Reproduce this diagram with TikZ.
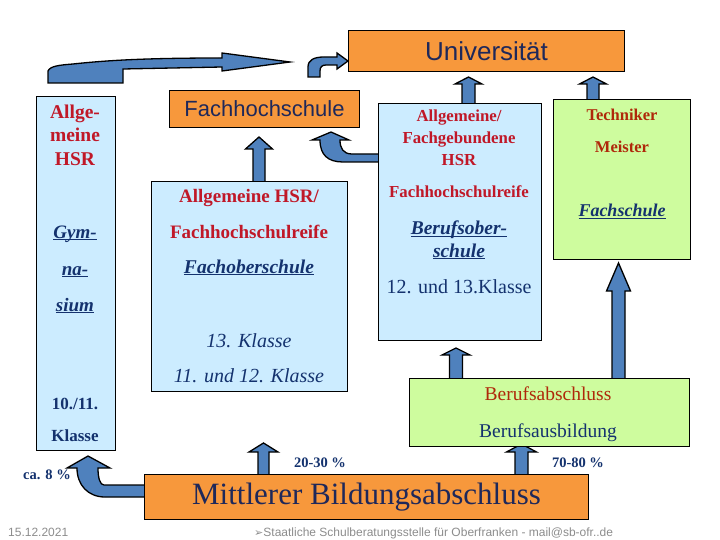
\documentclass[tikz,border=0pt]{standalone}
\usepackage{fontspec}
\setmainfont{Liberation Serif}
\newfontfamily\arialf{Liberation Sans}
\newfontfamily\dejavu{DejaVu Sans}
\definecolor{orangebox}{RGB}{247,152,60}
\definecolor{lblue}{RGB}{204,236,255}
\definecolor{lgreen}{RGB}{206,252,158}
\definecolor{arrblue}{RGB}{79,129,189}
\definecolor{txtred}{RGB}{192,24,40}
\definecolor{txtbrown}{RGB}{175,40,10}
\definecolor{navy}{RGB}{20,50,110}
\definecolor{navyo}{RGB}{30,40,90}
\definecolor{footgray}{RGB}{140,140,140}
\newcommand\fsz[1]{\fontsize{#1}{#1}\selectfont}
\newcommand\ulx[1]{\setbox0\hbox{#1}\rlap{\rule[-2.4pt]{\wd0}{1.3pt}}\box0}
\newcommand\blockup[6]{%
  \filldraw[arr] (#1-#4,#2) -- (#1-#4,#3+#6) -- (#1-#5,#3+#6) -- (#1,#3) -- (#1+#5,#3+#6) -- (#1+#4,#3+#6) -- (#1+#4,#2) -- cycle;}
\tikzset{
  box/.style={draw=black,line width=1pt,anchor=north west,inner sep=0pt},
  arr/.style={fill=arrblue,draw=black,line width=1.3pt,line join=miter},
  lbl/.style={anchor=base,inner sep=0pt},
  redt/.style={lbl,text=txtred,font=\fsz{#1}\bfseries},
  navt/.style={lbl,text=navy,font=\fsz{#1}},
  bit/.style={lbl,text=navy,font=\fsz{#1}\bfseries\itshape},
  brt/.style={lbl,text=txtbrown,font=\fsz{#1}\bfseries},
  pct/.style={lbl,text=navy,font=\fsz{14.5}\bfseries},
}
\begin{document}
\begin{tikzpicture}[x=1pt,y=-1pt]
\useasboundingbox (0,0) rectangle (720,540);
% ---- arrows
% big top-left arrow
\filldraw[arr] (48,83) -- (48,71) .. controls (50,66) and (60,65) .. (73,64)
  .. controls (110,60) and (150,58) .. (222,58) -- (222,53) -- (290,62) -- (222,71)
  -- (222,67) -- (123,69) -- (123,83) -- cycle;
% small curved arrow to Universitaet
\filldraw[arr] (308,77) -- (308,67) .. controls (308,60) and (314,57) .. (324,57) -- (337,57)
  -- (337,53) -- (348,61) -- (337,69) -- (337,65) -- (326,65)
  .. controls (322,65) and (320,67) .. (320,71) -- (320,77) -- cycle;
% BOS -> Fachhochschule curved
\filldraw[arr] (380,154) -- (352,154) .. controls (343,154) and (340,148) .. (340,140)
  -- (349,140) -- (331,132) -- (312,140) -- (320,140)
  .. controls (320,155) and (328,162) .. (343,162) -- (380,162) -- cycle;
% Mittlerer -> Gymnasium curved
\filldraw[arr] (146,485) -- (104,485) .. controls (100,485) and (98,478) .. (98,468)
  -- (110,468) -- (88,456) -- (67,468) -- (77,468)
  .. controls (77,485) and (88,497) .. (105,497) -- (146,497) -- cycle;
% straight block arrows
\blockup{259}{183}{137}{6}{13.5}{12}
\blockup{468.5}{105}{77}{6.5}{13.5}{7}
\blockup{593}{101}{77}{6}{13.5}{7}
\blockup{456}{380}{348}{6.5}{14}{7}
\blockup{618.5}{380}{263}{6.5}{12}{28}
\blockup{263.5}{476}{443}{5.5}{14.5}{9}
\blockup{521.5}{476}{444}{6.5}{15}{8}
% ---- boxes
\node[box,fill=orangebox,minimum width=276pt,minimum height=41pt,text=navyo,font=\arialf\fsz{26}] (uni) at (348,30) {Universit\"at};
\node[box,fill=orangebox,minimum width=190pt,minimum height=37pt,text=navyo,font=\arialf\fsz{22}] (fh) at (169,90) {Fachhochschule};
\node[box,fill=lblue,minimum width=79pt,minimum height=354pt] (gym) at (36,96) {};
\node[box,fill=lblue,minimum width=196pt,minimum height=210pt] (fos) at (151,181) {};
\node[box,fill=lblue,minimum width=163pt,minimum height=237pt] (bos) at (378,103) {};
\node[box,fill=lgreen,minimum width=137pt,minimum height=160pt] (fs) at (553,99) {};
\node[box,fill=lgreen,minimum width=280pt,minimum height=68pt] (ba) at (409,378) {};
\node[box,fill=orangebox,minimum width=444pt,minimum height=45pt,text=navyo,font=\fsz{31}] (mbs) at (144,474) {Mittlerer Bildungsabschluss};
% ---- left column texts
\node[redt=19.5] (g1) at (75,119) {Allge-};
\node[redt=19.5] (g2) at (75,142) {meine};
\node[redt=19.5] (g3) at (75,166) {HSR};
\node[bit=19] (g4) at (75,238) {\ulx{Gym-}};
\node[bit=19] (g5) at (75,275) {\ulx{na-}};
\node[bit=19] (g6) at (75,311) {\ulx{sium}};
\node[navt=17,font=\fsz{17}\bfseries] (g7) at (75,409) {10./11.};
\node[navt=17,font=\fsz{17}\bfseries] (g8) at (75,441) {Klasse};
% ---- FOS texts
\node[redt=19] (f1) at (249,203) {Allgemeine HSR/};
\node[redt=19] (f2) at (249,238) {Fachhochschulreife};
\node[bit=19.5] (f3) at (249,273) {\ulx{Fachoberschule}};
\node[navt=20,font=\fsz{20}\itshape] (f4) at (249,347) {13. Klasse};
\node[navt=20,font=\fsz{20}\itshape] (f5) at (249,382) {11. und 12. Klasse};
% ---- BOS texts
\node[redt=16.8] (b1) at (459,122) {Allgemeine/};
\node[redt=16.8] (b2) at (459,144) {Fachgebundene};
\node[redt=16.8] (b3) at (459,166) {HSR};
\node[redt=16.8] (b4) at (459,198) {Fachhochschulreife};
\node[bit=19.5] (b5) at (459,235) {\ulx{Berufsober-}};
\node[bit=19.5] (b6) at (459,257) {\ulx{schule}};
\node[navt=20] (b7) at (459,293) {12. und 13.Klasse};
% ---- Fachschule texts
\node[brt=16.5] (s1) at (622,121) {Techniker};
\node[brt=16.5] (s2) at (622,153) {Meister};
\node[bit=18] (s3) at (622,217) {\ulx{Fachschule}};
% ---- Berufsabschluss texts
\node[lbl,text=txtbrown,font=\fsz{19.5}] (a1) at (548,400) {Berufsabschluss};
\node[navt=19.5] (a2) at (548,437) {Berufsausbildung};
% ---- percentages
\node[pct] (p1) at (47,479) {ca. 8 \%};
\node[pct] (p2) at (320,467) {20-30 \%};
\node[pct] (p3) at (578,467) {70-80 \%};
% ---- footer
\node[anchor=base west,inner sep=0pt,text=footgray,font=\arialf\fsz{12}] (d1) at (8,536) {15.12.2021};
\node[anchor=base west,inner sep=0pt,text=footgray,font=\arialf\fsz{12}] (d2) at (254,536) {{\dejavu\fsz{11}➢}Staatliche Schulberatungsstelle für Oberfranken - mail@sb-ofr..de};
\end{tikzpicture}
\end{document}
